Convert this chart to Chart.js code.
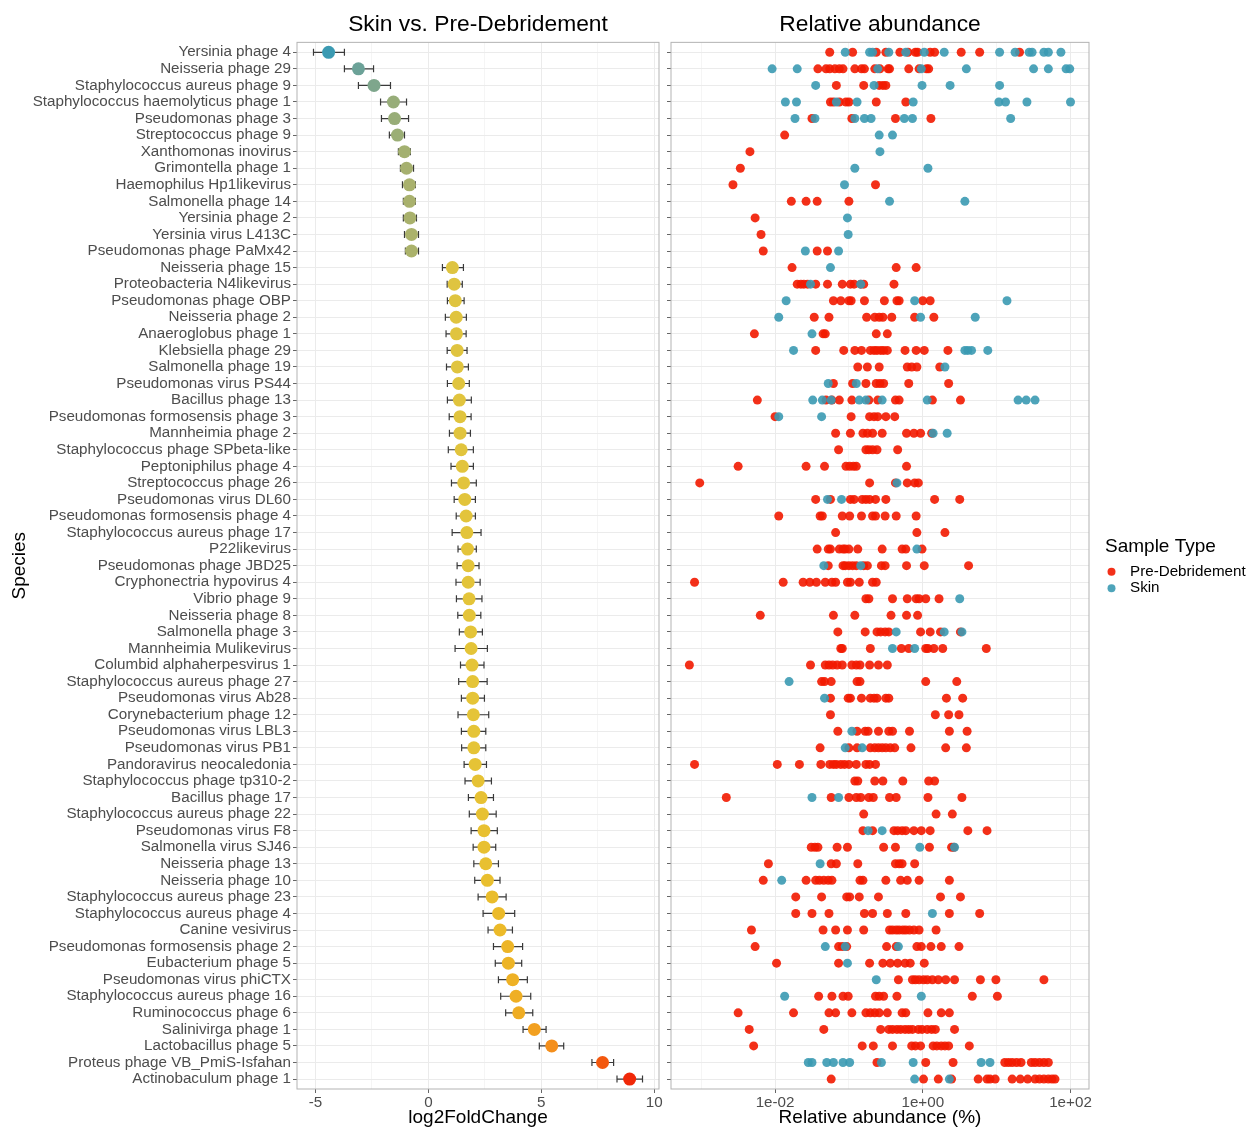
<!DOCTYPE html>
<html>
<head>
<meta charset="utf-8">
<script src="https://cdn.jsdelivr.net/npm/chart.js@4.4.1/dist/chart.umd.min.js"></script>
<style>
  html, body { margin: 0; padding: 0; background: #fff; }
  #wrap { position: relative; width: 1247px; height: 1129px; }
  canvas { position: absolute; top: 0; }
  #fcChart { left: 0; }
  #abChart { left: 662px; }
</style>
</head>
<body>
<div id="wrap">
  <canvas id="fcChart" width="672" height="1129"></canvas>
  <canvas id="abChart" width="585" height="1129"></canvas>
</div>
<script>
const species = [
  "Yersinia phage 4", "Neisseria phage 29", "Staphylococcus aureus phage 9",
  "Staphylococcus haemolyticus phage 1", "Pseudomonas phage 3", "Streptococcus phage 9",
  "Xanthomonas inovirus", "Grimontella phage 1", "Haemophilus Hp1likevirus",
  "Salmonella phage 14", "Yersinia phage 2", "Yersinia virus L413C",
  "Pseudomonas phage PaMx42", "Neisseria phage 15", "Proteobacteria N4likevirus",
  "Pseudomonas phage OBP", "Neisseria phage 2", "Anaeroglobus phage 1",
  "Klebsiella phage 29", "Salmonella phage 19", "Pseudomonas virus PS44",
  "Bacillus phage 13", "Pseudomonas formosensis phage 3", "Mannheimia phage 2",
  "Staphylococcus phage SPbeta-like", "Peptoniphilus phage 4", "Streptococcus phage 26",
  "Pseudomonas virus DL60", "Pseudomonas formosensis phage 4", "Staphylococcus aureus phage 17",
  "P22likevirus", "Pseudomonas phage JBD25", "Cryphonectria hypovirus 4",
  "Vibrio phage 9", "Neisseria phage 8", "Salmonella phage 3",
  "Mannheimia Mulikevirus", "Columbid alphaherpesvirus 1", "Staphylococcus aureus phage 27",
  "Pseudomonas virus Ab28", "Corynebacterium phage 12", "Pseudomonas virus LBL3",
  "Pseudomonas virus PB1", "Pandoravirus neocaledonia", "Staphylococcus phage tp310-2",
  "Bacillus phage 17", "Staphylococcus aureus phage 22", "Pseudomonas virus F8",
  "Salmonella virus SJ46", "Neisseria phage 13", "Neisseria phage 10",
  "Staphylococcus aureus phage 23", "Staphylococcus aureus phage 4", "Canine vesivirus",
  "Pseudomonas formosensis phage 2", "Eubacterium phage 5", "Pseudomonas virus phiCTX",
  "Staphylococcus aureus phage 16", "Ruminococcus phage 6", "Salinivirga phage 1",
  "Lactobacillus phage 5", "Proteus phage VB_PmiS-Isfahan", "Actinobaculum phage 1"
];

const log2FoldChange = [
  -4.42, -3.10, -2.41, -1.55, -1.50, -1.37, -1.06, -0.97, -0.84, -0.84, -0.82, -0.75, -0.75,
  1.06, 1.14, 1.19, 1.23, 1.24, 1.27, 1.28, 1.34, 1.37, 1.40, 1.40, 1.45, 1.50, 1.56, 1.61, 1.67, 1.70,
  1.73, 1.76, 1.76, 1.80, 1.81, 1.87, 1.89, 1.93, 1.96, 1.96, 1.99, 2.01, 2.01, 2.07, 2.20, 2.33, 2.39,
  2.46, 2.46, 2.54, 2.61, 2.82, 3.11, 3.17, 3.51, 3.54, 3.73, 3.88, 4.00, 4.69, 5.46, 7.71, 8.91
];
const log2FoldChangeLow = [
  -5.09, -3.72, -3.10, -2.12, -2.08, -1.73, -1.33, -1.24, -1.15, -1.11, -1.11, -1.06, -1.02,
  0.62, 0.83, 0.84, 0.75, 0.78, 0.83, 0.80, 0.84, 0.84, 0.92, 0.93, 0.88, 1.00, 1.02, 1.14, 1.23, 1.05,
  1.31, 1.27, 1.22, 1.24, 1.30, 1.37, 1.18, 1.42, 1.34, 1.46, 1.31, 1.46, 1.47, 1.58, 1.62, 1.77, 1.81,
  1.89, 1.98, 2.01, 2.05, 2.20, 2.42, 2.64, 2.88, 2.96, 3.10, 3.20, 3.42, 4.19, 4.91, 7.24, 8.35
];
const log2FoldChangeHigh = [
  -3.72, -2.43, -1.68, -0.97, -0.88, -1.06, -0.80, -0.66, -0.58, -0.58, -0.53, -0.44, -0.44,
  1.55, 1.50, 1.58, 1.68, 1.67, 1.71, 1.77, 1.81, 1.90, 1.89, 1.86, 1.99, 1.99, 2.12, 2.08, 2.08, 2.33,
  2.12, 2.24, 2.29, 2.37, 2.32, 2.39, 2.61, 2.46, 2.60, 2.48, 2.67, 2.54, 2.54, 2.57, 2.79, 2.88, 3.00,
  3.05, 2.98, 3.10, 3.17, 3.44, 3.82, 3.72, 4.17, 4.13, 4.38, 4.53, 4.62, 5.21, 5.99, 8.20, 9.48
];

const sampleTypes = ["Pre-Debridement", "Skin"];

// relative abundance (%) per species, stored as log10 of the value
const preDebridementLog10 = [
  [-1.26, -0.95, -0.63, -0.50, -0.31, -0.20, -0.10, -0.07, 0.10, 0.16, 0.52, 0.77, 1.31],
  [-1.42, -1.31, -1.26, -1.19, -1.13, -1.08, -0.92, -0.83, -0.79, -0.65, -0.58, -0.47, -0.45, -0.19, -0.05, 0.05, 0.08],
  [-1.17, -0.80, -0.59, -0.54, -0.50],
  [-1.25, -1.21, -1.13, -1.04, -1.00, -0.63, -0.23],
  [-1.50, -0.96, -0.37, 0.11],
  [-1.87],
  [-2.34],
  [-2.47],
  [-2.57, -0.64],
  [-1.78, -1.58, -1.43, -1.00],
  [-2.27],
  [-2.19],
  [-2.16, -1.43, -1.29],
  [-1.77, -0.36, -0.09],
  [-1.70, -1.65, -1.61, -1.56, -1.45, -1.29, -1.09, -0.98, -0.93, -0.84, -0.80, -0.39],
  [-1.21, -1.11, -1.00, -0.97, -0.79, -0.52, -0.35, -0.32, 0.00, 0.10],
  [-1.47, -1.27, -0.76, -0.65, -0.59, -0.54, -0.42, -0.11, 0.15],
  [-2.28, -1.35, -1.32, -0.63, -0.48],
  [-1.45, -1.07, -0.92, -0.83, -0.71, -0.66, -0.62, -0.57, -0.53, -0.48, -0.24, -0.09, 0.02, 0.34],
  [-0.88, -0.75, -0.59, -0.21, -0.15, -0.08, 0.23],
  [-1.21, -0.95, -0.77, -0.63, -0.58, -0.53, -0.19, 0.35],
  [-2.24, -1.31, -1.23, -1.13, -0.96, -0.73, -0.61, -0.37, -0.32, 0.13, 0.51],
  [-2.00, -0.97, -0.72, -0.66, -0.61, -0.50, -0.38],
  [-1.18, -0.98, -0.81, -0.75, -0.68, -0.55, -0.22, -0.12, -0.03, 0.12],
  [-1.14, -0.77, -0.73, -0.68, -0.62, -0.34],
  [-2.50, -1.58, -1.33, -1.04, -0.99, -0.94, -0.90, -0.22],
  [-3.02, -0.72, -0.37, -0.21, -0.11, -0.06],
  [-1.45, -1.25, -0.98, -0.93, -0.82, -0.77, -0.72, -0.64, -0.50, 0.16, 0.50],
  [-1.95, -1.39, -1.36, -1.09, -0.99, -0.83, -0.68, -0.64, -0.51, -0.36, -0.09],
  [-1.18, -0.08, 0.30],
  [-1.43, -1.28, -1.25, -1.13, -1.08, -1.05, -1.00, -0.88, -0.55, -0.28, -0.23, -0.01],
  [-1.28, -1.08, -1.05, -1.00, -0.95, -0.90, -0.80, -0.75, -0.56, -0.51, -0.22, 0.02, 0.62],
  [-3.09, -1.89, -1.62, -1.53, -1.44, -1.32, -1.23, -1.18, -1.02, -0.98, -0.86, -0.68, -0.63],
  [-0.77, -0.73, -0.41, -0.21, -0.09, -0.05, 0.04, 0.22],
  [-2.20, -1.21, -0.92, -0.43, -0.22, -0.07],
  [-1.15, -0.78, -0.62, -0.57, -0.51, -0.46, -0.03, 0.10, 0.24, 0.51],
  [-1.11, -1.09, -0.71, -0.29, -0.19, 0.04, 0.07, 0.15, 0.27, 0.86],
  [-3.16, -1.52, -1.32, -1.27, -1.22, -1.16, -1.09, -0.96, -0.90, -0.85, -0.72, -0.60, -0.48],
  [-1.37, -1.33, -1.24, -0.89, -0.85, 0.04, 0.46],
  [-1.25, -1.01, -0.98, -0.83, -0.71, -0.66, -0.62, -0.50, -0.46, 0.32, 0.54],
  [-1.25, 0.17, 0.35, 0.49],
  [-1.15, -0.89, -0.78, -0.74, -0.60, -0.46, -0.41, -0.18, 0.36, 0.60],
  [-1.39, -1.00, -0.89, -0.71, -0.65, -0.60, -0.55, -0.50, -0.44, -0.38, -0.16, 0.31, 0.59],
  [-3.09, -1.97, -1.67, -1.38, -1.26, -1.21, -1.17, -1.11, -1.06, -1.00, -0.90, -0.77, -0.72, -0.64],
  [-0.92, -0.88, -0.65, -0.54, -0.27, 0.08, 0.16],
  [-2.66, -1.24, -1.00, -0.90, -0.84, -0.73, -0.67, -0.45, -0.36, 0.07, 0.53],
  [-0.80, 0.18, 0.40],
  [-0.81, -0.68, -0.39, -0.34, -0.28, -0.23, -0.12, -0.02, 0.10, 0.61, 0.87],
  [-1.51, -1.46, -1.42, -1.16, -1.02, -0.53, -0.37, 0.09, 0.39, 0.42],
  [-2.09, -1.24, -1.17, -0.88, -0.37, -0.32, -0.28, -0.11],
  [-2.16, -1.58, -1.45, -1.40, -1.34, -1.28, -1.23, -0.85, -0.81, -0.50, -0.30, -0.21, -0.05, 0.36],
  [-1.72, -1.37, -1.03, -0.99, -0.86, -0.60, 0.24, 0.51],
  [-1.72, -1.50, -1.27, -0.79, -0.68, -0.48, -0.23, 0.36, 0.77],
  [-2.32, -1.35, -1.18, -1.02, -0.80, -0.45, -0.41, -0.36, -0.32, -0.27, -0.23, -0.18, -0.12, -0.05, 0.18],
  [-2.27, -1.14, -1.09, -1.03, -0.49, -0.36, -0.08, -0.02, 0.11, 0.25, 0.49],
  [-1.98, -1.14, -0.72, -0.54, -0.44, -0.34, -0.24, -0.17, 0.02],
  [-0.33, -0.14, -0.10, -0.05, 0.01, 0.06, 0.13, 0.21, 0.31, 0.43, 0.78, 0.99, 1.64],
  [-1.41, -1.23, -1.08, -1.01, -0.64, -0.59, -0.53, -0.35, 0.67, 1.01],
  [-2.50, -1.75, -1.27, -1.18, -0.96, -0.77, -0.71, -0.65, -0.59, -0.48, -0.28, -0.23, 0.07, 0.25, 0.36],
  [-2.35, -1.34, -0.57, -0.46, -0.41, -0.35, -0.30, -0.24, -0.19, -0.14, -0.06, -0.01, 0.06, 0.12, 0.17, 0.43],
  [-2.29, -0.82, -0.67, -0.41, -0.15, -0.10, -0.03, 0.14, 0.19, 0.25, 0.30, 0.35, 0.63],
  [-0.62, 0.04, 0.41, 1.11, 1.16, 1.21, 1.27, 1.33, 1.47, 1.52, 1.58, 1.64, 1.70],
  [-1.24, 0.01, 0.21, 0.39, 0.75, 0.87, 0.91, 0.98, 1.21, 1.32, 1.42, 1.52, 1.58, 1.64, 1.70, 1.75, 1.79]
];
const skinLog10 = [
  [-1.05, -0.72, -0.68, -0.46, -0.23, 0.02, 0.29, 1.04, 1.25, 1.44, 1.48, 1.64, 1.70, 1.87],
  [-2.04, -1.70, -0.61, -0.02, 0.59, 1.50, 1.70, 1.94, 1.99],
  [-1.45, -0.66, -0.01, 0.37, 1.04],
  [-1.86, -1.71, -1.17, -0.89, -0.13, 1.03, 1.12, 1.41, 2.00],
  [-1.73, -1.46, -0.92, -0.79, -0.70, -0.25, -0.14, 1.19],
  [-0.59, -0.41],
  [-0.58],
  [-0.92, 0.07],
  [-1.06],
  [-0.45, 0.57],
  [-1.02],
  [-1.01],
  [-1.59, -1.14],
  [-1.25],
  [-1.52, -0.84],
  [-1.85, -0.11, 1.14],
  [-1.95, -0.03, 0.71],
  [-1.50],
  [-1.75, 0.57, 0.61, 0.66, 0.88],
  [0.30],
  [-1.28, -0.90],
  [-1.49, -1.36, -1.24, -0.86, -0.77, -0.55, 0.06, 1.29, 1.40, 1.52],
  [-1.95, -1.37],
  [0.14, 0.33],
  [],
  [],
  [-0.35],
  [-1.29, -1.10],
  [],
  [],
  [-0.08],
  [-1.34, -0.84],
  [],
  [0.50],
  [],
  [-0.36, 0.29, 0.53],
  [-0.41, -0.11],
  [],
  [-1.81],
  [-1.33],
  [],
  [-0.96],
  [-1.05, -0.82],
  [],
  [],
  [-1.50, -1.14],
  [],
  [-0.74, -0.55],
  [-0.04, 0.43],
  [-1.39],
  [-1.91],
  [],
  [0.13],
  [],
  [-1.32, -1.05, -0.33],
  [-1.02],
  [-0.63],
  [-1.87, -0.02],
  [],
  [],
  [],
  [-1.55, -1.50, -1.30, -1.21, -1.08, -0.99, -0.56, -0.13, 0.79, 0.91],
  [-0.11, 0.36]
];

const foldTicks = [-5, 0, 5, 10];
const foldMinorTicks = [-2.5, 2.5, 7.5];
const abundanceTicks = [1e-2, 1, 1e2];
const abundanceTickLabels = ["1e-02", "1e+00", "1e+02"];
const abundanceMinorTicks = [1e-3, 1e-1, 1e1];

const FAMILY = '"Liberation Sans", Arial, Helvetica, sans-serif';
const FONT_TITLE = 22.8, FONT_AXIS = 19, FONT_TEXT = 15.2;
const GRID_MAJOR = "#ebebeb", GRID_MINOR = "#f5f5f5", BORDER = "#b3b3b3", TICK = "#666666";
const sampleColours = {"Pre-Debridement": "rgba(242,26,0,0.9)", "Skin": "rgba(59,154,178,0.9)"};

Chart.defaults.font.family = FAMILY;
Chart.defaults.font.size = FONT_TEXT;
Chart.defaults.color = "#4d4d4d";

// colour ramp of the fold change points (blue -> olive -> yellow -> red)
const rampStops = [
  [-4.42, [59, 154, 178]], [-3.1, [108, 162, 152]], [-2.4, [126, 166, 140]],
  [-1.5, [152, 173, 120]], [-0.8, [170, 177, 108]], [1.0, [222, 196, 66]],
  [2.0, [229, 196, 55]], [3.0, [235, 188, 42]], [3.9, [239, 175, 36]],
  [4.7, [242, 160, 32]], [5.5, [244, 142, 28]], [7.7, [243, 88, 14]], [8.9, [240, 40, 8]]
];
function rampColour(v) {
  if (v <= rampStops[0][0]) return `rgb(${rampStops[0][1].join(",")})`;
  for (let k = 1; k < rampStops.length; k++) {
    const [v1, c1] = rampStops[k];
    if (v <= v1) {
      const [v0, c0] = rampStops[k - 1];
      const t = (v - v0) / (v1 - v0);
      const c = c0.map((a, j) => Math.round(a + (c1[j] - a) * t));
      return `rgb(${c.join(",")})`;
    }
  }
  return `rgb(${rampStops[rampStops.length - 1][1].join(",")})`;
}

const isIn = (list, v) => list.some(t => Math.abs(t - v) < 1e-9 * Math.max(1, Math.abs(t)));

const panelBorder = {
  id: "panelBorder",
  afterDatasetsDraw(chart) {
    const {ctx, chartArea: a} = chart;
    ctx.save();
    ctx.strokeStyle = BORDER;
    ctx.lineWidth = 1;
    ctx.strokeRect(a.left, a.top, a.right - a.left, a.bottom - a.top);
    ctx.restore();
  }
};

const errorBars = {
  id: "errorBars",
  beforeDatasetsDraw(chart) {
    const {ctx, scales: {x, y}} = chart;
    ctx.save();
    ctx.strokeStyle = "#3a3a3a";
    ctx.lineWidth = 1.2;
    species.forEach((_, i) => {
      const yy = y.getPixelForValue(i);
      const x0 = x.getPixelForValue(log2FoldChangeLow[i]);
      const x1 = x.getPixelForValue(log2FoldChangeHigh[i]);
      ctx.beginPath();
      ctx.moveTo(x0, yy); ctx.lineTo(x1, yy);
      ctx.moveTo(x0, yy - 3.5); ctx.lineTo(x0, yy + 3.5);
      ctx.moveTo(x1, yy - 3.5); ctx.lineTo(x1, yy + 3.5);
      ctx.stroke();
    });
    ctx.restore();
  }
};

const sampleLegend = {
  id: "sampleLegend",
  afterDraw(chart) {
    const {ctx, chartArea: a} = chart;
    const x0 = a.right + 16;
    const mid = (a.top + a.bottom) / 2;
    ctx.save();
    ctx.textAlign = "left";
    ctx.textBaseline = "middle";
    ctx.fillStyle = "#000";
    ctx.font = `${FONT_AXIS}px ${FAMILY}`;
    ctx.fillText("Sample Type", x0, mid - 18.5);
    ctx.font = `${FONT_TEXT}px ${FAMILY}`;
    sampleTypes.forEach((name, k) => {
      const yy = mid + 6 + k * 16.6;
      ctx.fillStyle = sampleColours[name];
      ctx.beginPath();
      ctx.arc(x0 + 6.5, yy, 4, 0, Math.PI * 2);
      ctx.fill();
      ctx.fillStyle = "#000";
      ctx.fillText(name, x0 + 25, yy);
    });
    ctx.restore();
  }
};

function speciesAxis(showLabels, width, withTitle) {
  return {
    type: "linear",
    reverse: true,
    min: -0.6,
    max: species.length - 1 + 0.6,
    afterBuildTicks: s => { s.ticks = species.map((_, i) => ({value: i})); },
    afterFit: s => { s.width = width; },
    ticks: {
      display: showLabels, autoSkip: false, padding: 2, color: "#4d4d4d",
      font: {size: FONT_TEXT}, callback: v => species[v]
    },
    grid: {color: GRID_MAJOR, lineWidth: 1, tickLength: 4, tickColor: TICK},
    border: {display: false},
    title: {
      display: withTitle, text: "Species", color: "#000",
      font: {size: FONT_AXIS}, padding: {top: 8, bottom: 0}
    }
  };
}

function titleOpts(text) {
  return {
    display: true, text, fullSize: false, color: "#000",
    font: {size: FONT_TITLE, weight: "normal"}, padding: {top: 11, bottom: 4}
  };
}

new Chart(document.getElementById("fcChart"), {
  type: "scatter",
  data: {
    datasets: [{
      label: "log2FoldChange",
      data: log2FoldChange.map((v, i) => ({x: v, y: i})),
      pointBackgroundColor: log2FoldChange.map(rampColour),
      pointRadius: 6.5,
      pointHoverRadius: 6.5,
      pointBorderWidth: 0
    }]
  },
  options: {
    responsive: false, animation: false, devicePixelRatio: 1, events: [],
    layout: {padding: {left: 0, right: 13, top: 0, bottom: 0}},
    plugins: {legend: {display: false}, tooltip: {enabled: false}, title: titleOpts("Skin vs. Pre-Debridement")},
    scales: {
      x: {
        type: "linear", min: -5.82, max: 10.21,
        afterBuildTicks: s => {
          s.ticks = [...foldTicks, ...foldMinorTicks].sort((a, b) => a - b).map(v => ({value: v}));
        },
        afterFit: s => { s.height = 40; },
        ticks: {
          autoSkip: false, maxRotation: 0, padding: 1, color: "#4d4d4d", font: {size: FONT_TEXT},
          callback: v => isIn(foldTicks, v) ? String(v) : ""
        },
        grid: {
          color: c => (c.tick && isIn(foldTicks, c.tick.value)) ? GRID_MAJOR : GRID_MINOR,
          tickLength: 4,
          tickColor: c => (c.tick && isIn(foldTicks, c.tick.value)) ? TICK : "rgba(0,0,0,0)"
        },
        border: {display: false},
        title: {display: true, text: "log2FoldChange", color: "#000", font: {size: FONT_AXIS}, padding: {top: 0, bottom: 0}}
      },
      y: speciesAxis(true, 297, true)
    }
  },
  plugins: [errorBars, panelBorder]
});

const toPoints = rows => rows.flatMap((vals, i) => vals.map(e => ({x: Math.pow(10, e), y: i})));
const abundanceRows = {"Pre-Debridement": preDebridementLog10, "Skin": skinLog10};

new Chart(document.getElementById("abChart"), {
  type: "scatter",
  data: {
    datasets: sampleTypes.map(name => ({
      label: name,
      data: toPoints(abundanceRows[name]),
      backgroundColor: sampleColours[name],
      pointRadius: 4.5,
      pointHoverRadius: 4.5,
      pointBorderWidth: 0,
      order: name === "Skin" ? 0 : 1
    }))
  },
  options: {
    responsive: false, animation: false, devicePixelRatio: 1, events: [],
    layout: {padding: {left: 0, right: 158, top: 0, bottom: 0}},
    plugins: {legend: {display: false}, tooltip: {enabled: false}, title: titleOpts("Relative abundance")},
    scales: {
      x: {
        type: "logarithmic", min: 3.9e-4, max: 178,
        afterBuildTicks: s => {
          s.ticks = [...abundanceTicks, ...abundanceMinorTicks].sort((a, b) => a - b).map(v => ({value: v}));
        },
        afterFit: s => { s.height = 40; },
        ticks: {
          autoSkip: false, maxRotation: 0, padding: 1, color: "#4d4d4d", font: {size: FONT_TEXT},
          callback: v => {
            const k = abundanceTicks.findIndex(t => Math.abs(Math.log10(t) - Math.log10(v)) < 1e-6);
            return k >= 0 ? abundanceTickLabels[k] : "";
          }
        },
        grid: {
          color: c => (c.tick && isIn(abundanceTicks, c.tick.value)) ? GRID_MAJOR : GRID_MINOR,
          tickLength: 4,
          tickColor: c => (c.tick && isIn(abundanceTicks, c.tick.value)) ? TICK : "rgba(0,0,0,0)"
        },
        border: {display: false},
        title: {display: true, text: "Relative abundance (%)", color: "#000", font: {size: FONT_AXIS}, padding: {top: 0, bottom: 0}}
      },
      y: speciesAxis(false, 9, false)
    }
  },
  plugins: [panelBorder, sampleLegend]
});
</script>
</body>
</html>
